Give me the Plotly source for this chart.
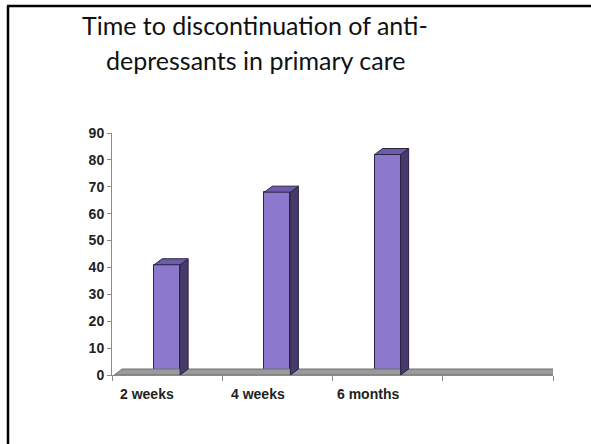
import plotly.graph_objects as go

# Data
categories = ["2 weeks", "4 weeks", "6 months"]
values = [41, 68, 82]
y_ticks = [0, 10, 20, 30, 40, 50, 60, 70, 80, 90]
title_lines = ["Time to discontinuation of anti-", "depressants in primary care"]

# Canvas / plot-area geometry (pixels)
W, H = 591, 444
PL, PR = 112, 553          # plot area left/right
PT, PB = 133, 375          # plot area top/bottom
Y_MAX = 90
N_SLOTS = 4                # three bars plus one empty slot on the floor

# 3D look: depth offset in data units
px_per_x = (PR - PL) / N_SLOTS
px_per_y = (PB - PT) / Y_MAX
DX = 8 / px_per_x
DY = 6 / px_per_y
HALF_W = 13 / px_per_x

FRONT = "#8C78CC"
SIDE = "#463A6C"
TOP = "#6E5CAA"
EDGE = "#2a2440"

fig = go.Figure()

# floor slab (top face) behind the bars
x0, x1 = -0.5, N_SLOTS - 0.5
fig.add_trace(go.Scatter(
    x=[x0 + 0.02, x1, x1 + DX, x0 + 0.02 + DX, x0 + 0.02],
    y=[0, 0, DY, DY, 0],
    fill="toself", fillcolor="#9a9a9a", mode="lines",
    line=dict(color="#6e6e6e", width=1), hoverinfo="skip", showlegend=False,
))

# front faces
xs = list(range(len(categories)))
fig.add_trace(go.Bar(
    x=xs, y=values, width=2 * HALF_W,
    marker=dict(color=FRONT, line=dict(color=EDGE, width=1)),
    hoverinfo="skip", showlegend=False,
))

# side and top faces
for i, v in zip(xs, values):
    r = i + HALF_W
    l = i - HALF_W
    fig.add_trace(go.Scatter(
        x=[r, r + DX, r + DX, r, r], y=[0, DY, v + DY, v, 0],
        fill="toself", fillcolor=SIDE, mode="lines",
        line=dict(color=EDGE, width=1), hoverinfo="skip", showlegend=False,
    ))
    fig.add_trace(go.Scatter(
        x=[l, l + DX, r + DX, r, l], y=[v, v + DY, v + DY, v, v],
        fill="toself", fillcolor=TOP, mode="lines",
        line=dict(color=EDGE, width=1), hoverinfo="skip", showlegend=False,
    ))

# category labels sit slightly left of the bars
for i, c in zip(xs, categories):
    fig.add_annotation(
        x=i - 0.18, y=0, xref="x", yref="y", yshift=-19,
        text=f"<b>{c}</b>", showarrow=False,
        font=dict(family="Liberation Sans, Arial", size=14, color="#222222"),
    )

# slide frame helpers (pixel -> paper)
def px_x(p):
    return (p - PL) / (PR - PL)

def px_y(q):
    return (PB - q) / (PB - PT)

# slide title, one annotation per line
for line, yc in zip(title_lines, [25, 60]):
    fig.add_annotation(
        x=px_x(255), y=px_y(yc),
        xref="paper", yref="paper", xanchor="center", yanchor="middle",
        text=line, showarrow=False,
        font=dict(family="Lato", size=25, color="#111111"),
    )

# slide frame (top and left edges)
fig.add_shape(type="line", xref="paper", yref="paper",
              x0=px_x(7), x1=px_x(W + 5), y0=px_y(6), y1=px_y(6),
              line=dict(color="#000000", width=2.5))
fig.add_shape(type="line", xref="paper", yref="paper",
              x0=px_x(8), x1=px_x(8), y0=px_y(6), y1=px_y(H + 5),
              line=dict(color="#000000", width=2.5))

fig.update_xaxes(
    range=[x0, x1], showgrid=False, zeroline=False,
    showline=True, linecolor="#8a8a8a", linewidth=1,
    tickmode="array", tickvals=[x0 + k for k in range(N_SLOTS + 1)],
    ticktext=[""] * (N_SLOTS + 1), ticks="outside", ticklen=5,
    tickcolor="#8a8a8a",
)
fig.update_yaxes(
    range=[0, Y_MAX], showgrid=False, zeroline=False,
    showline=True, linecolor="#8a8a8a", linewidth=1,
    tickmode="array", tickvals=y_ticks,
    ticktext=[f"<b>{t}</b>" for t in y_ticks],
    ticks="outside", ticklen=4, tickcolor="#8a8a8a",
    tickfont=dict(family="Liberation Sans, Arial", size=14, color="#222222"),
)

fig.update_layout(
    width=W, height=H,
    margin=dict(l=PL, r=W - PR, t=PT, b=H - PB),
    paper_bgcolor="white", plot_bgcolor="white",
    bargap=0,
)

fig.write_html("out.html")
